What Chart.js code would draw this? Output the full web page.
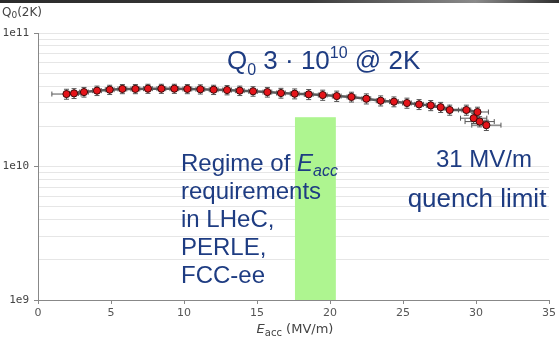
<!DOCTYPE html>
<html>
<head>
<meta charset="utf-8">
<script src="https://cdn.jsdelivr.net/npm/chart.js@4.4.0/dist/chart.umd.min.js"></script>
<style>
  html, body { margin: 0; padding: 0; background: #fff; }
  #wrap { width: 559px; height: 342px; }
</style>
</head>
<body>
<div id="wrap"><canvas id="myChart" width="559" height="342"></canvas></div>
<script>
// E_acc (MV/m) of each measured point
const eacc = [1.95, 2.47, 3.15, 4.04, 4.91, 5.78, 6.67, 7.53, 8.45, 9.34,
  10.23, 11.12, 12.03, 12.95, 13.82, 14.73, 15.71, 16.64, 17.58, 18.54,
  19.5, 20.46, 21.47, 22.49, 23.47, 24.38, 25.27, 26.1, 26.9, 27.58,
  28.2, 29.34, 30.1, 29.84, 30.25, 30.71];
// Q0 at 2K
const q0 = [3.49e10, 3.53e10, 3.61e10, 3.70e10, 3.76e10, 3.81e10, 3.81e10, 3.83e10, 3.83e10, 3.83e10,
  3.81e10, 3.79e10, 3.76e10, 3.74e10, 3.70e10, 3.66e10, 3.61e10, 3.55e10, 3.51e10, 3.47e10,
  3.43e10, 3.37e10, 3.32e10, 3.22e10, 3.11e10, 3.06e10, 2.99e10, 2.92e10, 2.87e10, 2.78e10,
  2.65e10, 2.65e10, 2.56e10, 2.30e10, 2.17e10, 2.04e10];
// error bars
const eaccErr = [1.0, 0.3, 0.3, 0.3, 0.3, 0.3, 0.3, 0.3, 0.3, 0.3,
  0.3, 0.3, 0.3, 0.3, 0.3, 0.3, 0.3, 0.3, 0.3, 0.3,
  0.3, 0.3, 0.3, 0.3, 0.3, 0.3, 0.3, 0.3, 0.3, 0.6,
  0.6, 0.3, 0.75, 0.9, 1.0, 1.0];
const q0Err = [0.3e10, 0.3e10, 0.3e10, 0.3e10, 0.3e10, 0.3e10, 0.3e10, 0.3e10, 0.3e10, 0.3e10,
  0.3e10, 0.3e10, 0.3e10, 0.3e10, 0.3e10, 0.3e10, 0.3e10, 0.3e10, 0.3e10, 0.3e10,
  0.3e10, 0.3e10, 0.28e10, 0.28e10, 0.27e10, 0.26e10, 0.26e10, 0.25e10, 0.25e10, 0.24e10,
  0.23e10, 0.23e10, 0.22e10, 0.2e10, 0.19e10, 0.18e10];

// green band: regime of E_acc requirements
const bandRange = [17.6, 20.4];
const bandTop = 2.34e10;

const xTicks = [0, 5, 10, 15, 20, 25, 30, 35];
const yDecades = [1e9, 1e10, 1e11];
const yTickLabels = ["1e9", "1e10", "1e11"];

const blue = "#1e3c82";

function drawRich(ctx, x, y, parts) {
  let cx = x;
  for (const [t, font, dy] of parts) {
    ctx.font = font;
    ctx.fillText(t, cx, y + (dy || 0));
    cx += ctx.measureText(t).width;
  }
  return cx - x;
}
function richWidth(ctx, parts) {
  let w = 0;
  for (const [t, font] of parts) { ctx.font = font; w += ctx.measureText(t).width; }
  return w;
}

const extras = {
  id: "extras",
  beforeDraw(chart) {
    const ctx = chart.ctx;
    ctx.save();
    ctx.fillStyle = "#fff";
    ctx.fillRect(0, 0, chart.width, chart.height);
    // dark strip at the top edge of the photo
    const g = ctx.createLinearGradient(0, 0, chart.width, 0);
    g.addColorStop(0, "#2b2b2b");
    g.addColorStop(0.55, "#3a3a3a");
    g.addColorStop(0.85, "#8a8a8a");
    g.addColorStop(1, "#2e2e2e");
    ctx.fillStyle = g;
    ctx.fillRect(0, 0, chart.width, 3);
    ctx.restore();
  },
  beforeDatasetsDraw(chart) {
    const ctx = chart.ctx;
    const xs = chart.scales.x, ys = chart.scales.y;
    ctx.save();
    // band
    const bx0 = xs.getPixelForValue(bandRange[0]);
    const bx1 = xs.getPixelForValue(bandRange[1]);
    const by0 = ys.getPixelForValue(bandTop);
    const by1 = ys.getPixelForValue(yDecades[0]);
    ctx.fillStyle = "#aef590";
    ctx.fillRect(bx0, by0, bx1 - bx0, by1 - by0);
    // error bars
    ctx.strokeStyle = "#555";
    ctx.lineWidth = 1;
    for (let i = 0; i < eacc.length; i++) {
      const px = xs.getPixelForValue(eacc[i]);
      const py = ys.getPixelForValue(q0[i]);
      const yl = ys.getPixelForValue(q0[i] - q0Err[i]);
      const yh = ys.getPixelForValue(q0[i] + q0Err[i]);
      const xl = xs.getPixelForValue(eacc[i] - eaccErr[i]);
      const xh = xs.getPixelForValue(eacc[i] + eaccErr[i]);
      ctx.beginPath();
      ctx.moveTo(px, yl); ctx.lineTo(px, yh);
      ctx.moveTo(px - 2.5, yl); ctx.lineTo(px + 2.5, yl);
      ctx.moveTo(px - 2.5, yh); ctx.lineTo(px + 2.5, yh);
      ctx.moveTo(xl, py); ctx.lineTo(xh, py);
      ctx.moveTo(xl, py - 2.5); ctx.lineTo(xl, py + 2.5);
      ctx.moveTo(xh, py - 2.5); ctx.lineTo(xh, py + 2.5);
      ctx.stroke();
    }
    ctx.restore();
  },
  afterDatasetsDraw(chart) {
    const ctx = chart.ctx;
    ctx.save();
    ctx.textBaseline = "alphabetic";
    ctx.textAlign = "left";

    // axis titles
    ctx.fillStyle = "#444";
    drawRich(ctx, 2, 16, [
      ["Q", "12px 'DejaVu Sans'", 0],
      ["0", "9px 'DejaVu Sans'", 2],
      ["(2K)", "12px 'DejaVu Sans'", 0]
    ]);
    const xt = [
      ["E", "italic 13px 'DejaVu Sans'", 0],
      ["acc", "10px 'DejaVu Sans'", 3],
      [" (MV/m)", "13px 'DejaVu Sans'", 0]
    ];
    drawRich(ctx, 295 - richWidth(ctx, xt) / 2, 333, xt);

    // annotations
    ctx.fillStyle = blue;
    const f26 = "26px 'Liberation Sans'", f16 = "16px 'Liberation Sans'";
    drawRich(ctx, 227, 69, [
      ["Q", f26, 0], ["0", f16, 6], [" 3 \u00b7 10", f26, 0],
      ["10", f16, -11], [" @ 2K", f26, 0]
    ]);
    const f24 = "24px 'Liberation Sans'";
    drawRich(ctx, 181, 171, [
      ["Regime of ", f24, 0],
      ["E", "italic 24px 'Liberation Sans'", 0],
      ["acc", "italic 16px 'Liberation Sans'", 5]
    ]);
    const lines = ["requirements", "in LHeC,", "PERLE,", "FCC-ee"];
    lines.forEach((t, i) => {
      ctx.font = f24;
      ctx.fillText(t, 181, 199 + i * 28);
    });
    ctx.textAlign = "center";
    ctx.font = f24;
    ctx.fillText("31 MV/m", 484, 167);
    ctx.font = "26px 'Liberation Sans'";
    ctx.fillText("quench limit", 477, 207);
    ctx.restore();
  }
};

const isDecade = (v) => {
  const e = Math.log10(v);
  return Math.abs(e - Math.round(e)) < 1e-9;
};

new Chart(document.getElementById("myChart"), {
  type: "line",
  data: {
    datasets: [{
      data: eacc.map((x, i) => ({ x: x, y: q0[i] })),
      borderColor: "#5a5a5a",
      borderWidth: 2.5,
      pointRadius: 3.6,
      pointBorderWidth: 1,
      pointBackgroundColor: "#e5141a",
      pointBorderColor: "#3a0a0a",
      tension: 0
    }]
  },
  options: {
    responsive: false,
    animation: false,
    devicePixelRatio: 1,
    layout: { padding: { top: 33, right: 10, left: 0, bottom: 0 } },
    plugins: { legend: { display: false }, tooltip: { enabled: false } },
    scales: {
      x: {
        type: "linear",
        min: 0,
        max: 35,
        afterBuildTicks: (s) => { s.ticks = xTicks.map((v) => ({ value: v })); },
        ticks: { color: "#555", font: { family: "DejaVu Sans", size: 11 }, padding: 3, maxRotation: 0 },
        grid: { drawOnChartArea: false, tickLength: 4, tickColor: "#888" },
        border: { color: "#888" },
        afterFit: (s) => { s.height = 42; }
      },
      y: {
        type: "logarithmic",
        min: 1e9,
        max: 1e11,
        afterBuildTicks: (s) => {
          const t = [];
          for (let d = 0; d < yDecades.length - 1; d++) {
            for (let m = 1; m <= 9; m++) t.push({ value: m * yDecades[d] });
          }
          t.push({ value: yDecades[yDecades.length - 1] });
          s.ticks = t;
        },
        ticks: {
          autoSkip: false,
          color: "#444",
          font: { family: "DejaVu Sans Mono", size: 11 },
          padding: 5,
          callback: (v) => {
            const i = yDecades.findIndex((d) => Math.abs(d - v) / d < 1e-9);
            return i >= 0 ? yTickLabels[i] : "";
          }
        },
        grid: {
          color: "#e6e6e6",
          tickLength: 4,
          tickColor: (c) => (c.tick && isDecade(c.tick.value) ? "#888" : "rgba(0,0,0,0)")
        },
        border: { color: "#888" },
        afterFit: (s) => { s.width = 38; }
      }
    }
  },
  plugins: [extras]
});
</script>
</body>
</html>
